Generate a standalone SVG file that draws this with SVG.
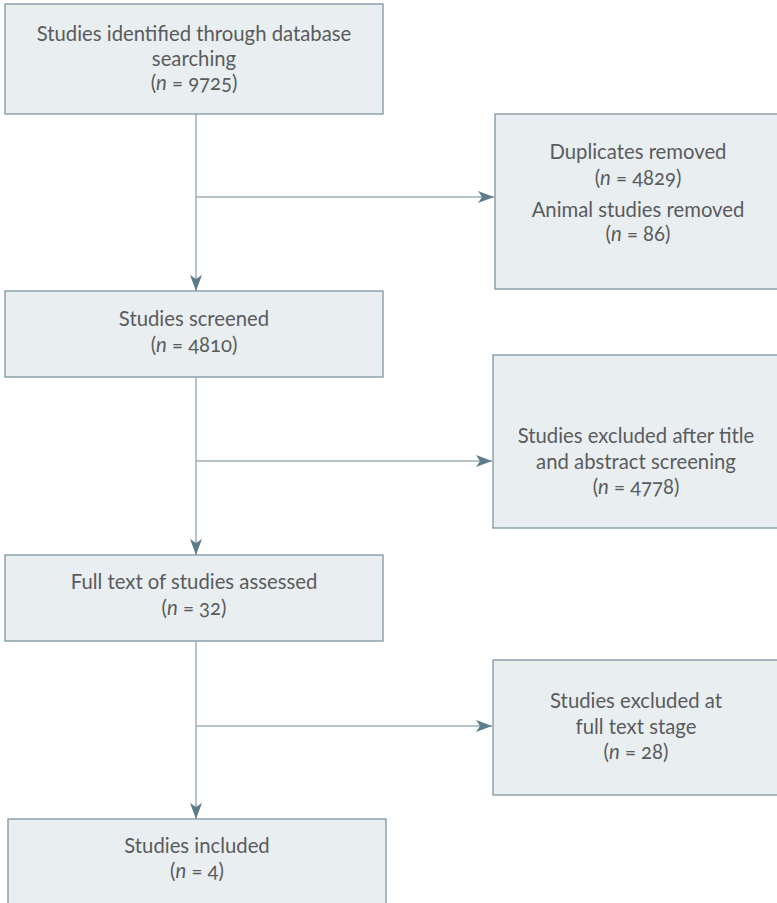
<svg xmlns="http://www.w3.org/2000/svg" width="777" height="903" viewBox="0 0 777 903">
<defs>
<style>
.box{fill:#e9eef1;stroke:#7f95a2;stroke-width:1.3}
.t{font-family:Lato,"Open Sans",sans-serif;font-size:20.3px;fill:#5a5b5d;text-anchor:middle;font-variant-numeric:oldstyle-nums}
.i{font-style:italic}
.c{fill:none;stroke:#9cb0bb;stroke-width:1.5}
</style>
<marker id="ah" viewBox="0 0 16 12" refX="16" refY="6" markerWidth="16" markerHeight="12" markerUnits="userSpaceOnUse" orient="auto">
<path d="M0,0 L16,6 L0,12 L4,6 Z" fill="#5e7d8c"/>
</marker>
</defs>
<rect width="777" height="903" fill="#ffffff"/>
<g id="connectors">
<line class="c" x1="196" y1="114" x2="196" y2="291" marker-end="url(#ah)"/>
<line class="c" x1="196" y1="197" x2="494" y2="197" marker-end="url(#ah)"/>
<line class="c" x1="196" y1="377" x2="196" y2="555" marker-end="url(#ah)"/>
<line class="c" x1="196" y1="461" x2="492" y2="461" marker-end="url(#ah)"/>
<line class="c" x1="196" y1="641" x2="196" y2="819" marker-end="url(#ah)"/>
<line class="c" x1="196" y1="726" x2="492" y2="726" marker-end="url(#ah)"/>
</g>
<g id="n1">
<rect class="box" x="5" y="4" width="378" height="110"/>
<text class="t" x="194" y="41">Studies identified through database</text>
<text class="t" x="194" y="66">searching</text>
<text class="t" x="194" y="90">(<tspan class="i">n</tspan> = 9725)</text>
</g>
<g id="n2">
<rect class="box" x="495" y="114" width="290" height="175"/>
<text class="t" x="638" y="159">Duplicates removed</text>
<text class="t" x="638" y="185">(<tspan class="i">n</tspan> = 4829)</text>
<text class="t" x="638" y="217">Animal studies removed</text>
<text class="t" x="638" y="241">(<tspan class="i">n</tspan> = 86)</text>
</g>
<g id="n3">
<rect class="box" x="5" y="291" width="378" height="86"/>
<text class="t" x="194" y="326">Studies screened</text>
<text class="t" x="194" y="352">(<tspan class="i">n</tspan> = 4810)</text>
</g>
<g id="n4">
<rect class="box" x="493" y="355" width="292" height="173"/>
<text class="t" x="636" y="443">Studies excluded after title</text>
<text class="t" x="636" y="469">and abstract screening</text>
<text class="t" x="636" y="494">(<tspan class="i">n</tspan> = 4778)</text>
</g>
<g id="n5">
<rect class="box" x="5" y="555" width="378" height="86"/>
<text class="t" x="194" y="589">Full text of studies assessed</text>
<text class="t" x="194" y="615">(<tspan class="i">n</tspan> = 32)</text>
</g>
<g id="n6">
<rect class="box" x="493" y="660" width="292" height="135"/>
<text class="t" x="636" y="708">Studies excluded at</text>
<text class="t" x="636" y="734">full text stage</text>
<text class="t" x="636" y="759">(<tspan class="i">n</tspan> = 28)</text>
</g>
<g id="n7">
<rect class="box" x="8" y="819" width="378" height="100"/>
<text class="t" x="197" y="853">Studies included</text>
<text class="t" x="197" y="878">(<tspan class="i">n</tspan> = 4)</text>
</g>
</svg>
